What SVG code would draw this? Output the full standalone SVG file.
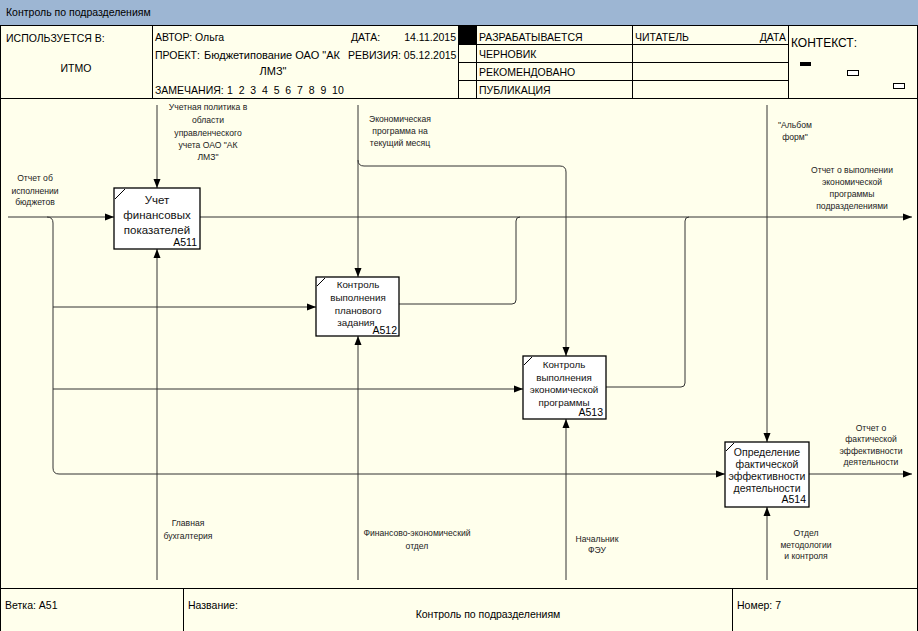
<svg xmlns="http://www.w3.org/2000/svg" width="918" height="631" viewBox="0 0 918 631">
<style>
text{font-family:"Liberation Sans",Arial,sans-serif;fill:#000}
.h{font-size:10.5px}
.lbl{font-size:8.6px;text-anchor:middle;fill:#222}
.bt{font-size:10.5px;text-anchor:middle;fill:#111}
.num{font-size:10.5px;text-anchor:end}
.box{fill:#fff;stroke:#000;stroke-width:1.3}
.cn{fill:none;stroke:#333;stroke-width:1}
.fr{stroke:#000;stroke-width:1;fill:none}
</style>
<defs>
<marker id="ar" markerWidth="9" markerHeight="8" refX="9" refY="4" orient="auto" markerUnits="userSpaceOnUse">
<path d="M0,0.5 L9,4 L0,7.5 z" fill="#000"/>
</marker>
</defs>
<rect x="0" y="0" width="918" height="631" fill="#ffffec"/>
<rect x="0" y="0" width="918" height="25" fill="#9db6d3"/>
<text class="h" x="6" y="16">Контроль по подразделениям</text>
<g id="frame">
<line class="fr" x1="0" y1="25.5" x2="918" y2="25.5"/>
<line class="fr" x1="0.5" y1="25" x2="0.5" y2="631"/>
<line class="fr" x1="917.5" y1="25" x2="917.5" y2="631"/>
<line class="fr" x1="0" y1="98.5" x2="918" y2="98.5"/>
<line class="fr" x1="152.5" y1="25" x2="152.5" y2="98"/>
<line class="fr" x1="458.5" y1="25" x2="458.5" y2="98"/>
<line class="fr" x1="476.5" y1="25" x2="476.5" y2="98"/>
<line class="fr" x1="632.5" y1="25" x2="632.5" y2="98"/>
<line class="fr" x1="788.5" y1="25" x2="788.5" y2="98"/>
<line class="fr" x1="458" y1="44.5" x2="788" y2="44.5"/>
<line class="fr" x1="458" y1="62.5" x2="788" y2="62.5"/>
<line class="fr" x1="458" y1="80.5" x2="788" y2="80.5"/>
<rect x="458" y="25" width="18" height="19" fill="#000"/>
<rect x="800" y="62" width="11" height="4" fill="#000"/>
<rect x="847.5" y="70.5" width="11" height="5" fill="#fff" stroke="#000"/>
<rect x="893.5" y="83.5" width="11" height="5" fill="#fff" stroke="#000"/>
<line class="fr" x1="0" y1="588.5" x2="918" y2="588.5"/>
<line class="fr" x1="183.5" y1="588" x2="183.5" y2="631"/>
<line class="fr" x1="732.5" y1="588" x2="732.5" y2="631"/>
</g>
<g id="header-text" class="h">
<text x="6" y="42">ИСПОЛЬЗУЕТСЯ В:</text>
<text x="76" y="72" text-anchor="middle">ИТМО</text>
<text x="155" y="41">АВТОР: Ольга</text>
<text x="351" y="41">ДАТА:</text>
<text x="456" y="41" text-anchor="end">14.11.2015</text>
<text x="155" y="59">ПРОЕКТ:</text>
<text x="204" y="59" style="font-size:11px">Бюджетипование ОАО "АК</text>
<text x="273" y="75" text-anchor="middle" style="font-size:11px">ЛМЗ"</text>
<text x="348" y="59">РЕВИЗИЯ: 05.12.2015</text>
<text x="155" y="94">ЗАМЕЧАНИЯ:</text>
<text x="227" y="94" xml:space="preserve" style="white-space:pre">1  2  3  4  5  6  7  8  9  10</text>
<text x="479" y="41">РАЗРАБАТЫВАЕТСЯ</text>
<text x="479" y="58">ЧЕРНОВИК</text>
<text x="479" y="76">РЕКОМЕНДОВАНО</text>
<text x="479" y="94">ПУБЛИКАЦИЯ</text>
<text x="635" y="41">ЧИТАТЕЛЬ</text>
<text x="786" y="41" text-anchor="end">ДАТА</text>
<text x="791" y="47" style="font-size:12px">КОНТЕКСТ:</text>
</g>
<g id="footer-text" class="h">
<text x="5" y="609">Ветка: A51</text>
<text x="188" y="609">Название:</text>
<text x="488" y="618" text-anchor="middle">Контроль по подразделениям</text>
<text x="737" y="609">Номер: 7</text>
</g>
<g id="connectors">
<path class="cn" d="M8,217 H114" marker-end="url(#ar)"/>
<path class="cn" d="M47,217 Q53,217 53,223 V468 Q53,474 59,474 H725" marker-end="url(#ar)"/>
<path class="cn" d="M53,307 H316" marker-end="url(#ar)"/>
<path class="cn" d="M53,389 H523" marker-end="url(#ar)"/>
<path class="cn" d="M200,217 H912" marker-end="url(#ar)"/>
<path class="cn" d="M399,304 H512 Q516,304 516,300 V221 Q516,217 520,217"/>
<path class="cn" d="M606,387 H681 Q685,387 685,383 V221 Q685,217 689,217"/>
<path class="cn" d="M157,105 V188" marker-end="url(#ar)"/>
<path class="cn" d="M358,105 V277" marker-end="url(#ar)"/>
<path class="cn" d="M358,160 Q358,166 364,166 H560 Q566,166 566,172 V356" marker-end="url(#ar)"/>
<path class="cn" d="M767,105 V442" marker-end="url(#ar)"/>
<path class="cn" d="M157,580 V249" marker-end="url(#ar)"/>
<path class="cn" d="M358,580 V336" marker-end="url(#ar)"/>
<path class="cn" d="M566,580 V419" marker-end="url(#ar)"/>
<path class="cn" d="M767,580 V507" marker-end="url(#ar)"/>
<path class="cn" d="M809,474 H912" marker-end="url(#ar)"/>
</g>
<g id="labels">
<text class="lbl" x="35" y="181">Отчет об</text>
<text class="lbl" x="35" y="194">исполнении</text>
<text class="lbl" x="35" y="205">бюджетов</text>
<text class="lbl" x="208" y="110">Учетная политика в</text>
<text class="lbl" x="208" y="123">области</text>
<text class="lbl" x="208" y="136">управленческого</text>
<text class="lbl" x="208" y="148">учета ОАО "АК</text>
<text class="lbl" x="208" y="160">ЛМЗ"</text>
<text class="lbl" x="400" y="122">Экономическая</text>
<text class="lbl" x="400" y="134">программа на</text>
<text class="lbl" x="400" y="146">текущий месяц</text>
<text class="lbl" x="795" y="128">"Альбом</text>
<text class="lbl" x="795" y="140">форм"</text>
<text class="lbl" x="852" y="173">Отчет о выполнении</text>
<text class="lbl" x="852" y="185">экономической</text>
<text class="lbl" x="852" y="197">программы</text>
<text class="lbl" x="852" y="209">подразделениями</text>
<text class="lbl" x="871" y="431">Отчет о</text>
<text class="lbl" x="871" y="442">фактической</text>
<text class="lbl" x="871" y="454">эффективности</text>
<text class="lbl" x="871" y="465">деятельности</text>
<text class="lbl" x="188" y="526">Главная</text>
<text class="lbl" x="188" y="539">бухгалтерия</text>
<text class="lbl" x="417" y="536">Финансово-экономический</text>
<text class="lbl" x="417" y="549">отдел</text>
<text class="lbl" x="597" y="542">Начальник</text>
<text class="lbl" x="597" y="553">ФЭУ</text>
<text class="lbl" x="806" y="536">Отдел</text>
<text class="lbl" x="806" y="548">методологии</text>
<text class="lbl" x="806" y="559">и контроля</text>
</g>
<g id="A511">
<rect class="box" x="114" y="188" width="86" height="61"/>
<line class="fr" x1="115" y1="199" x2="125" y2="189"/>
<text class="bt" x="157" y="204" style="font-size:11.5px">Учет</text>
<text class="bt" x="157" y="219" style="font-size:11.5px">финансовых</text>
<text class="bt" x="157" y="234" style="font-size:11.5px">показателей</text>
<text class="num" x="197" y="246">A511</text>
</g>
<g id="A512">
<rect class="box" x="316" y="277" width="83" height="59"/>
<line class="fr" x1="317" y1="286" x2="325" y2="278"/>
<text class="bt" x="358" y="288" style="font-size:9.8px">Контроль</text>
<text class="bt" x="358" y="301" style="font-size:9.8px">выполнения</text>
<text class="bt" x="358" y="314" style="font-size:9.8px">планового</text>
<text class="bt" x="356" y="326" style="font-size:9.8px">задания</text>
<text class="num" x="397" y="334">A512</text>
</g>
<g id="A513">
<rect class="box" x="523" y="356" width="83" height="63"/>
<line class="fr" x1="524" y1="365" x2="532" y2="357"/>
<text class="bt" x="564" y="368" style="font-size:9.8px">Контроль</text>
<text class="bt" x="564" y="381" style="font-size:9.8px">выполнения</text>
<text class="bt" x="564" y="393" style="font-size:9.8px">экономической</text>
<text class="bt" x="564" y="406" style="font-size:9.8px">программы</text>
<text class="num" x="603" y="416">A513</text>
</g>
<g id="A514">
<rect class="box" x="725" y="442" width="84" height="65"/>
<line class="fr" x1="726" y1="451" x2="734" y2="443"/>
<text class="bt" x="767" y="456">Определение</text>
<text class="bt" x="767" y="468">фактической</text>
<text class="bt" x="767" y="480">эффективности</text>
<text class="bt" x="767" y="492">деятельности</text>
<text class="num" x="806" y="503">A514</text>
</g>
</svg>
